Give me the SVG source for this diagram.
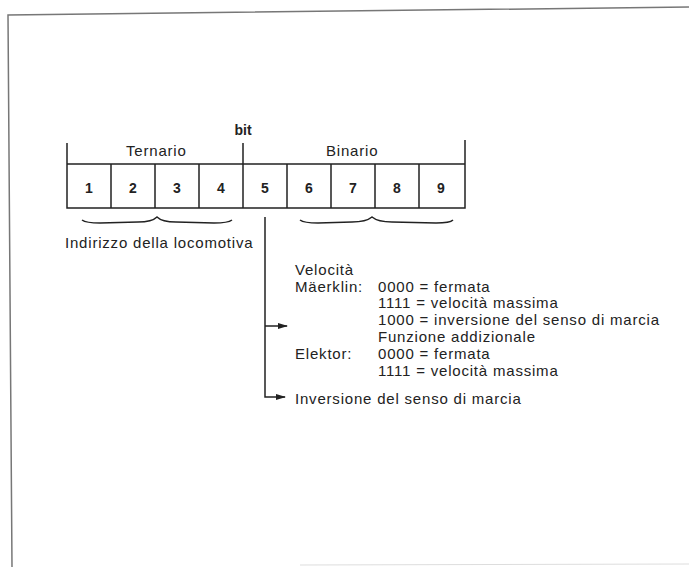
<svg xmlns="http://www.w3.org/2000/svg" width="689" height="567" viewBox="0 0 689 567">
<defs>
<marker id="arr" markerWidth="10" markerHeight="8" refX="9" refY="4" orient="auto" markerUnits="userSpaceOnUse">
<path d="M0,1 L10,4 L0,7 Z" fill="#222"/>
</marker>
<style>
.t{font-family:"Liberation Sans",Arial,sans-serif;font-size:15px;fill:#222;letter-spacing:0.8px}
.n{font-family:"Liberation Sans",Arial,sans-serif;font-size:14px;font-weight:bold;fill:#222;text-anchor:middle}
.ln{stroke:#222;stroke-width:1.5;fill:none}
.fr{stroke:#777;stroke-width:1.5;fill:none}
</style>
</defs>
<rect width="689" height="567" fill="#fff"/>
<g id="frame">
<path class="fr" d="M12,567 L8,15 L689,7"/>
<path d="M300,565 L689,564" stroke="#ddd" stroke-width="1" fill="none"/>
</g>
<g id="register">
<path class="ln" d="M67,143 L67,208 L465,208 L465,140 M67,164 L465,164 M243,143 L243,208"/>
<path class="ln" d="M111,164 V208 M155,164 V208 M199,164 V208 M287,164 V208 M331,164 V208 M375,164 V208 M419,164 V208"/>
<text class="n" x="89" y="193">1</text>
<text class="n" x="133" y="193">2</text>
<text class="n" x="177" y="193">3</text>
<text class="n" x="221" y="193">4</text>
<text class="n" x="265" y="193">5</text>
<text class="n" x="309" y="193">6</text>
<text class="n" x="353" y="193">7</text>
<text class="n" x="397" y="193">8</text>
<text class="n" x="441" y="193">9</text>
<text class="n" x="243" y="135">bit</text>
<text class="t" x="126" y="156">Ternario</text>
<text class="t" x="326" y="156">Binario</text>
</g>
<g id="address">
<path class="ln" d="M82,220 Q86,223 100,223 L138,222 Q152,222 157,217 Q162,222 176,222 L214,223 Q228,223 232,220"/>
<text class="t" x="65" y="248">Indirizzo della locomotiva</text>
</g>
<g id="binary-brace">
<path class="ln" d="M300,220 Q304,223 318,223 L352,222 Q366,222 372,217 Q378,222 392,222 L436,223 Q450,223 453,220"/>
</g>
<g id="connectors">
<path class="ln" d="M265,217 L265,397 L285,397" marker-end="url(#arr)"/>
<path class="ln" d="M265,326 L287,326" marker-end="url(#arr)"/>
</g>
<g id="speed">
<text class="t" x="295" y="275">Velocità</text>
<text class="t" x="295" y="292">Mäerklin:</text>
<text class="t" x="378" y="292">0000 = fermata</text>
<text class="t" x="378" y="308">1111 = velocità massima</text>
<text class="t" x="378" y="325">1000 = inversione del senso di marcia</text>
<text class="t" x="378" y="342">Funzione addizionale</text>
<text class="t" x="295" y="359">Elektor:</text>
<text class="t" x="378" y="359">0000 = fermata</text>
<text class="t" x="378" y="376">1111 = velocità massima</text>
</g>
<g id="reverse">
<text class="t" x="295" y="404">Inversione del senso di marcia</text>
</g>
</svg>
